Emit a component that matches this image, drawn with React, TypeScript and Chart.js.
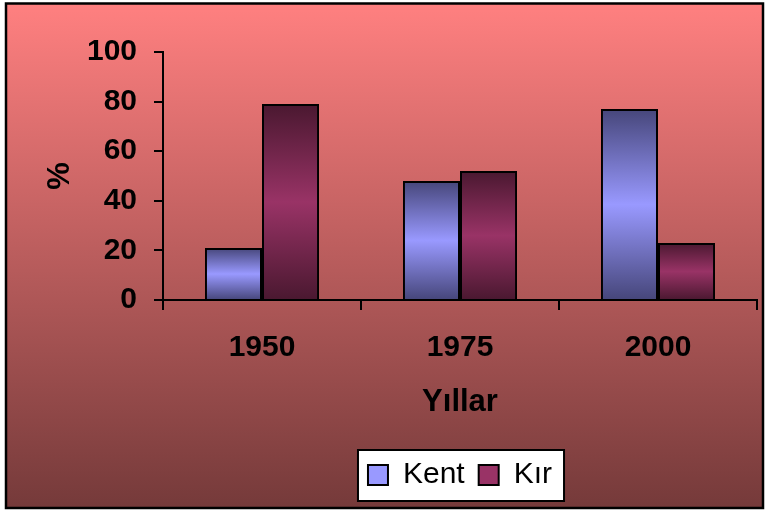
import React, { useEffect, useRef } from "react";
import { Chart, registerables } from "chart.js";

Chart.register(...registerables);

const categories = ["1950", "1975", "2000"];
const kentValues = [21, 48, 77];
const kirValues = [79, 52, 23];
const seriesNames = ["Kent", "Kır"];
const yTicks = [0, 20, 40, 60, 80, 100];
const xTitle = "Yıllar";
const yTitle = "%";

const FONT = "'Liberation Sans', Arial, sans-serif";

function barGradient(dark: string, light: string) {
  return (ctx: any) => {
    const chart = ctx.chart;
    const scales = chart.scales;
    if (ctx.type !== "data" || !scales || !scales.y) return light;
    const y = scales.y;
    const top = y.getPixelForValue(ctx.raw);
    const base = y.getPixelForValue(0);
    if (!isFinite(top) || !isFinite(base) || top === base) return light;
    const g = chart.ctx.createLinearGradient(0, top, 0, base);
    g.addColorStop(0, dark);
    g.addColorStop(0.5, light);
    g.addColorStop(1, dark);
    return g;
  };
}

const framePlugin = {
  id: "frame",
  beforeDraw(chart: any) {
    const c = chart.ctx;
    c.save();
    c.fillStyle = "#ffffff";
    c.fillRect(0, 0, chart.width, chart.height);
    const x0 = 6, y0 = 3.5, x1 = 763, y1 = 508;
    const g = c.createLinearGradient(0, y0, 0, y1);
    g.addColorStop(0, "#FF8080");
    g.addColorStop(1, "#753A3A");
    c.fillStyle = g;
    c.fillRect(x0, y0, x1 - x0, y1 - y0);
    c.strokeStyle = "#000";
    c.lineWidth = 2.5;
    c.strokeRect(x0, y0, x1 - x0, y1 - y0);
    // legend white box
    const lg = chart.legend;
    if (lg && lg.legendHitBoxes && lg.legendHitBoxes.length) {
      const hb = lg.legendHitBoxes;
      const first = hb[0];
      const last = hb[hb.length - 1];
      const cy = first.top + first.height / 2;
      const left = first.left - 10;
      const right = last.left + last.width + 12;
      c.fillStyle = "#ffffff";
      c.fillRect(left, cy - 25, right - left, 51);
      c.strokeStyle = "#000";
      c.lineWidth = 2;
      c.strokeRect(left, cy - 25, right - left, 51);
    }
    c.restore();
  },
};

export default function App() {
  const ref = useRef<HTMLCanvasElement | null>(null);
  useEffect(() => {
    if (!ref.current) return;
    const chart = new Chart(ref.current, {
      type: "bar",
      data: {
        labels: categories,
        datasets: [
          {
            label: seriesNames[0],
            data: kentValues,
            backgroundColor: barGradient("#46467A", "#9999FF"),
            borderColor: "#000",
            borderWidth: 2,
            categoryPercentage: 0.576,
            barPercentage: 1,
          },
          {
            label: seriesNames[1],
            data: kirValues,
            backgroundColor: barGradient("#4A1830", "#993366"),
            borderColor: "#000",
            borderWidth: 2,
            categoryPercentage: 0.576,
            barPercentage: 1,
          },
        ],
      },
      options: {
        responsive: false,
        animation: false,
        devicePixelRatio: 1,
        layout: { padding: { top: 52, left: 42, right: 11, bottom: 13 } },
        plugins: {
          tooltip: { enabled: false },
          legend: {
            position: "bottom",
            fullSize: false,
            labels: {
              font: { family: FONT, size: 30 },
              color: "#000",
              boxWidth: 20,
              boxHeight: 20,
              padding: 14,
              generateLabels: (chart: any) =>
                chart.data.datasets.map((ds: any, i: number) => ({
                  text: ds.label,
                  fillStyle: i === 0 ? "#9999FF" : "#993366",
                  strokeStyle: "#000",
                  lineWidth: 2,
                  datasetIndex: i,
                  hidden: false,
                })),
            },
          },
        },
        scales: {
          x: {
            grid: {
              drawOnChartArea: false,
              drawTicks: true,
              tickLength: 10,
              color: "#000",
              lineWidth: 2,
            },
            border: { color: "#000", width: 2 },
            ticks: {
              font: { family: FONT, size: 30, weight: "bold" },
              color: "#000",
              padding: 20,
              maxRotation: 0,
            },
            title: {
              display: true,
              text: xTitle,
              font: { family: FONT, size: 31, weight: "bold" },
              color: "#000",
              padding: { top: 0, bottom: 25 },
            },
            afterFit: (s: any) => {
              s.height = 146;
            },
          },
          y: {
            min: 0,
            max: 100,
            afterBuildTicks: (s: any) => {
              s.ticks = yTicks.map((v) => ({ value: v }));
            },
            grid: {
              drawOnChartArea: false,
              drawTicks: true,
              tickLength: 9,
              color: "#000",
              lineWidth: 2,
            },
            border: { color: "#000", width: 2 },
            ticks: {
              font: { family: FONT, size: 30, weight: "bold" },
              color: "#000",
              padding: 17,
            },
            title: {
              display: true,
              text: yTitle,
              font: { family: FONT, size: 31, weight: "bold" },
              color: "#000",
              padding: { top: 0, bottom: 0 },
            },
            afterFit: (s: any) => {
              s.width = 121;
            },
          },
        },
      },
      plugins: [framePlugin],
    });
    return () => chart.destroy();
  }, []);
  return (
    <div style={{ position: "absolute", left: 0, top: 0 }}>
      <canvas ref={ref} width={768} height={513} style={{ display: "block" }} />
    </div>
  );
}
